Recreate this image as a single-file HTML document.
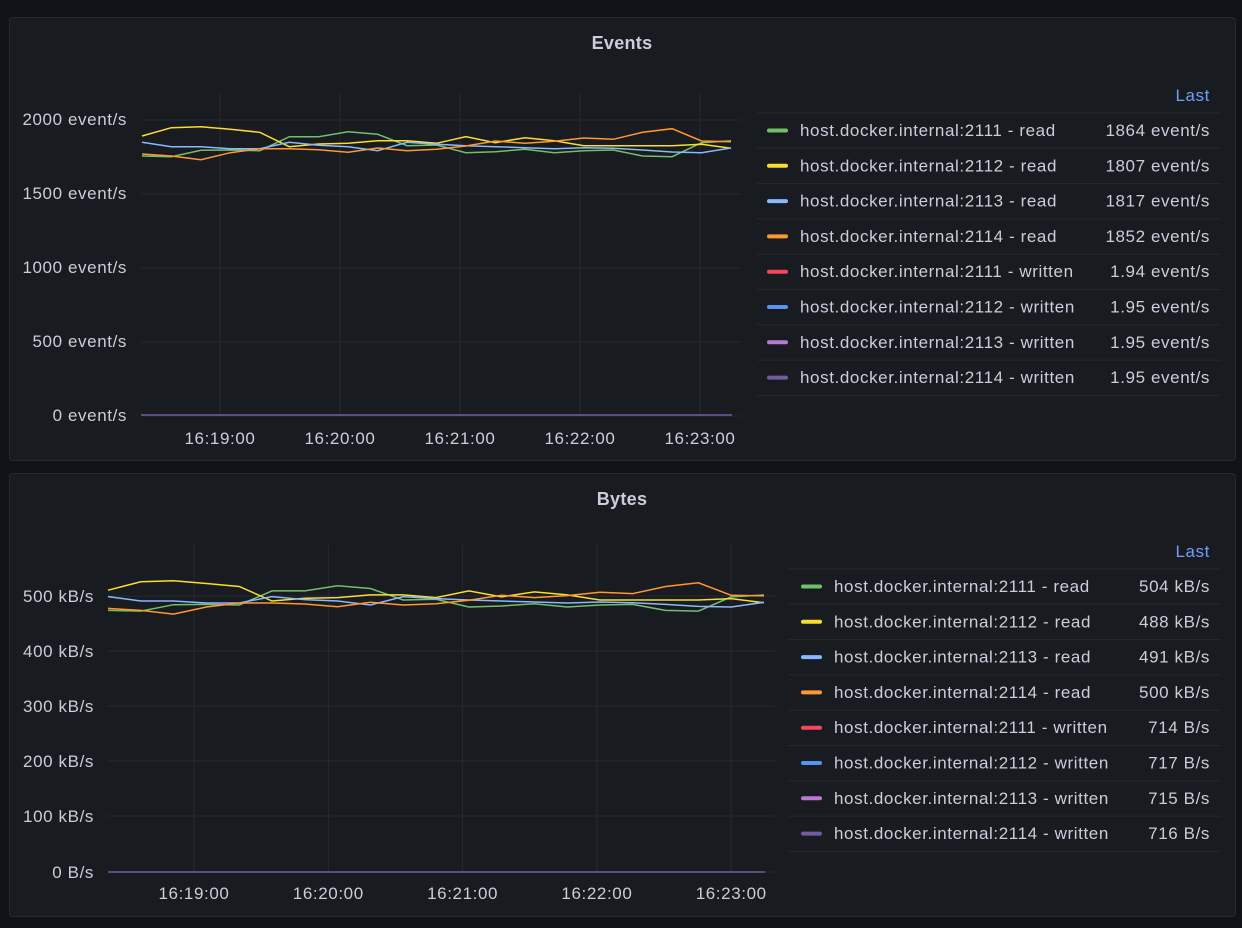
<!DOCTYPE html>
<html><head><meta charset="utf-8"><style>
body{margin:0;width:1242px;height:928px;background:#111217;font-family:"Liberation Sans",sans-serif;overflow:hidden}
svg{position:absolute;left:0;top:0}
#g text{letter-spacing:0.6px}
</style></head><body>
<svg id="s" width="1242" height="928" xmlns="http://www.w3.org/2000/svg" font-family="Liberation Sans, sans-serif">
<rect x="9.5" y="17.5" width="1226" height="443" rx="3" fill="#181b1f" stroke="#26292f"/>
<rect x="9.5" y="473.5" width="1226" height="443" rx="3" fill="#181b1f" stroke="#26292f"/>
<text x="622" y="49" text-anchor="middle" fill="#ccccdc" font-size="18" font-weight="bold" letter-spacing="0.3">Events</text>
<text x="622" y="505" text-anchor="middle" fill="#ccccdc" font-size="18" font-weight="bold" letter-spacing="0.3">Bytes</text>
<g id="g"></g>
</svg>
<script>
var g=document.getElementById('g'),h='';
function L(x1,y1,x2,y2,c,w){h+='<line x1="'+x1+'" y1="'+y1+'" x2="'+x2+'" y2="'+y2+'" stroke="'+c+'" stroke-width="'+(w||1)+'"/>';}
function T(x,y,t,a,c,s){h+='<text x="'+x+'" y="'+y+'" text-anchor="'+(a||'start')+'" fill="'+(c||'#ccccdc')+'" font-size="'+(s||17)+'">'+t+'</text>';}
var gc='#26292e';
[[415,'0 event/s'],[341,'500 event/s'],[267,'1000 event/s'],[193,'1500 event/s'],[119,'2000 event/s']].forEach(function(p){L(141,p[0]+1,740,p[0]+1,gc);T(127,p[0]+6,p[1],'end');});
['16:19:00','16:20:00','16:21:00','16:22:00','16:23:00'].forEach(function(t,i){var x=220+i*120;L(x,92,x,416,gc);T(x,444,t,'middle');});
[[872,'0 B/s'],[816,'100 kB/s'],[761,'200 kB/s'],[706,'300 kB/s'],[651,'400 kB/s'],[596,'500 kB/s']].forEach(function(p){L(108,p[0],775,p[0],gc);T(94,p[0]+6,p[1],'end');});
['16:19:00','16:20:00','16:21:00','16:22:00','16:23:00'].forEach(function(t,i){var x=194+i*134.3;L(x,545,x,872,gc);T(x,899,t,'middle');});
var Y=[168,143,140,148,157,200,192,190,182,182,190,170,188,173,182,197,197,197,197,193,205];
var G=[228,230,211,210,212,170,170,155,163,197,195,218,215,208,218,212,210,228,230,188,182];
var B=[187,200,200,206,206,187,196,200,212,187,193,197,200,203,206,203,205,210,216,218,204];
var O=[222,228,239,218,206,206,209,217,204,212,208,198,183,190,184,174,178,157,146,183,185];
var ser=[[G,'#73bf69'],[Y,'#fade2a'],[B,'#8ab8ff'],[O,'#ff9830']];
function pl(arr,c,x0,x1,f){var p=[];for(var i=0;i<arr.length;i++){p.push((x0+(x1-x0)*i/20).toFixed(1)+','+f(80+arr[i]/3).toFixed(1));}h+='<polyline fill="none" stroke="'+c+'" stroke-width="1.5" points="'+p.join(' ')+'"/>';}
ser.forEach(function(s){pl(s[0],s[1],142,731,function(y){return y;});});
ser.forEach(function(s){pl(s[0],s[1],108,764,function(y){return 872-(415-y)*1.01;});});
L(141,415,732,415,'#705da0',1.5);L(108,872,765,872,'#705da0',1.5);
var names=['2111 - read','2112 - read','2113 - read','2114 - read','2111 - written','2112 - written','2113 - written','2114 - written'];
var cols=['#73bf69','#fade2a','#8ab8ff','#ff9830','#f2495c','#5794f2','#b877d9','#705da0'];
var v1=['1864 event/s','1807 event/s','1817 event/s','1852 event/s','1.94 event/s','1.95 event/s','1.95 event/s','1.95 event/s'];
var v2=['504 kB/s','488 kB/s','491 kB/s','500 kB/s','714 B/s','717 B/s','715 B/s','716 B/s'];
function leg(x0,sx,tx,top,vals){T(1210,top-12,'Last','end','#6e9fff',17);
 for(var i=0;i<8;i++){var y=top+i*35.3;L(x0,y,1221,y,'#25282d');
  h+='<rect x="'+sx+'" y="'+(y+15.5)+'" width="21" height="4" rx="2" fill="'+cols[i]+'"/>';
  T(tx,y+23,'host.docker.internal:'+names[i]);T(1210,y+23,vals[i],'end');}
 L(x0,top+8*35.3,1221,top+8*35.3,'#25282d');}
leg(757,767,800,113,v1);
leg(788,801,834,569,v2);
g.innerHTML=h;
</script>
</body></html>
